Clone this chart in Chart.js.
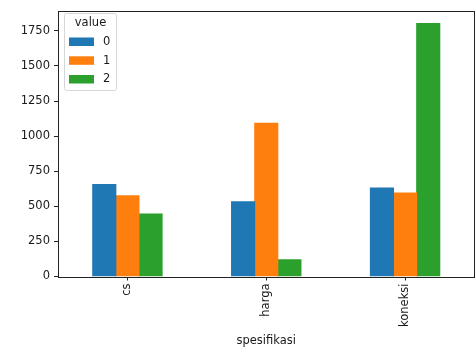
<!DOCTYPE html>
<html><head><meta charset="utf-8">
<script src="https://cdn.jsdelivr.net/npm/chart.js@4/dist/chart.umd.min.js"></script>
<style>html,body{margin:0;padding:0;background:#fff}#wrap{width:476px;height:352px}</style>
</head><body><div id="wrap"><canvas id="c" width="476" height="352"></canvas></div>
<script>
const categories = ['cs', 'harga', 'koneksi'];
const series0 = [655, 532, 630];
const series1 = [576, 1092, 595];
const series2 = [445, 119, 1802];
const seriesLabels = ['0', '1', '2'];
const yTicks = [0, 250, 500, 750, 1000, 1250, 1500, 1750];
const yMax = 1892;
const colors = ['#1f77b4', '#ff7f0e', '#2ca02c'];
const FONT = "'DejaVu Sans', sans-serif";
const TXT = '#1a1a1a';

const framePlugin = {
  id: 'frame',
  afterDraw(chart) {
    const ctx = chart.ctx, a = chart.chartArea;
    ctx.save();
    ctx.strokeStyle = '#222';
    ctx.lineWidth = 1;
    ctx.strokeRect(Math.round(a.left) + 0.5, Math.round(a.top) + 0.5, Math.round(a.right - a.left) - 1, Math.round(a.bottom - a.top));
    // legend
    const lx = 64.5, ly = 13.5, lw = 52, lh = 77;
    ctx.fillStyle = 'rgba(255,255,255,0.8)';
    ctx.strokeStyle = '#d6d6d6';
    ctx.beginPath();
    if (ctx.roundRect) ctx.roundRect(lx, ly, lw, lh, 2); else ctx.rect(lx, ly, lw, lh);
    ctx.fill(); ctx.stroke();
    ctx.fillStyle = TXT;
    ctx.font = '11.5px ' + FONT;
    ctx.textAlign = 'center';
    ctx.textBaseline = 'middle';
    ctx.fillText('value', lx + lw / 2, 23);
    ctx.textAlign = 'left';
    const rows = [41.5, 60.3, 79];
    chart.data.datasets.forEach((ds, i) => {
      ctx.fillStyle = ds.backgroundColor;
      ctx.fillRect(69, rows[i] - 4, 25, 8.5);
      ctx.fillStyle = TXT;
      ctx.fillText(ds.label, 103, rows[i] + 0.5);
    });
    ctx.restore();
  }
};

new Chart(document.getElementById('c'), {
  type: 'bar',
  data: {
    labels: categories,
    datasets: [
      { label: seriesLabels[0], data: series0, backgroundColor: colors[0] },
      { label: seriesLabels[1], data: series1, backgroundColor: colors[1] },
      { label: seriesLabels[2], data: series2, backgroundColor: colors[2] }
    ]
  },
  options: {
    responsive: false,
    animation: false,
    devicePixelRatio: 1,
    layout: { padding: { top: 6, right: 1.5, left: 0, bottom: 0 } },
    datasets: { bar: { categoryPercentage: 0.5, barPercentage: 1.0, borderWidth: 0, inflateAmount: 0.5 } },
    plugins: { legend: { display: false }, tooltip: { enabled: false } },
    scales: {
      x: {
        offset: true,
        grid: { offset: false, drawOnChartArea: false, drawTicks: true, tickLength: 4, color: '#222' },
        border: { display: false },
        ticks: { color: TXT, font: { family: FONT, size: 11.5 }, minRotation: 90, maxRotation: 90, padding: 3, autoSkip: false },
        title: { display: true, text: 'spesifikasi', color: TXT, font: { family: FONT, size: 11.5 }, padding: { top: 2, bottom: 4 } },
        afterFit(axis) { axis.height = 75.5; }
      },
      y: {
        min: 0, max: yMax,
        grid: { drawOnChartArea: false, drawTicks: true, tickLength: 4, color: '#222' },
        border: { display: false },
        ticks: { color: TXT, font: { family: FONT, size: 11.5 }, padding: 4, callback: v => String(v) },
        afterBuildTicks(axis) { axis.ticks = yTicks.map(v => ({ value: v })); },
        afterFit(axis) { axis.width = 58; }
      }
    }
  },
  plugins: [framePlugin]
});
</script></body></html>
